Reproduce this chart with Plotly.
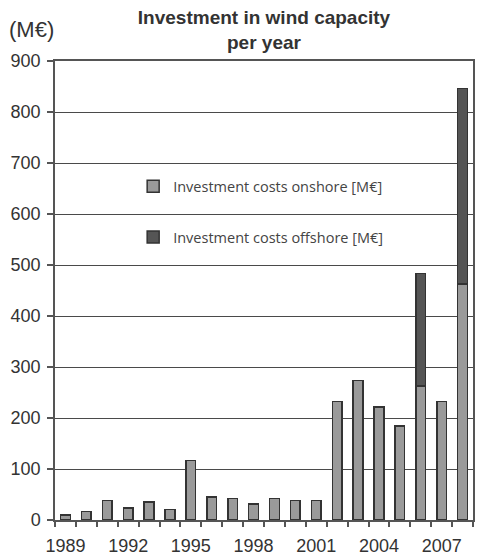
import plotly.graph_objects as go

years = [str(y) for y in range(1989, 2009)]
onshore = [10, 17, 38, 24, 35, 21, 117, 45, 42, 31, 42, 38, 38, 232, 274, 222, 184, 263, 232, 463]
offshore = [None, None, None, None, None, None, None, None, None, None, None, None, None, None,
            None, None, None, 220, None, 383]
tick_labels = [y if (int(y) - 1989) % 3 == 0 else "" for y in years]
y_ticks = list(range(0, 1000, 100))

fig = go.Figure()
fig.add_trace(go.Bar(
    x=years, y=onshore, name="Investment costs onshore [M€]",
    marker=dict(color="#9a9a9a", line=dict(color="#333333", width=1.5)),
    width=0.46, legendgroup="a",
))
fig.add_trace(go.Bar(
    x=years, y=offshore, name="Investment costs offshore [M€]",
    marker=dict(color="#555555", line=dict(color="#333333", width=1.5)),
    width=0.46, legendgroup="b",
))

fig.update_layout(
    barmode="stack",
    width=478, height=555,
    margin=dict(l=55, r=5, t=61, b=35, autoexpand=False),
    paper_bgcolor="white", plot_bgcolor="white",
    font=dict(family="Liberation Sans, Arial, sans-serif", color="#333333"),
    title=dict(
        text="<b>Investment in wind capacity<br>per year</b>",
        x=0.5, xanchor="center", xref="paper",
        y=1 - 24 / 555, yanchor="middle", yref="container",
        font=dict(size=19, color="#333333", family="Liberation Sans, Arial, sans-serif"),
    ),
    showlegend=True,
    legend=dict(
        x=0.187, y=0.762, xanchor="left", yanchor="top",
        bgcolor="rgba(0,0,0,0)",
        font=dict(family="Open Sans, sans-serif", size=14.5, color="#444444"),
        traceorder="grouped", tracegroupgap=29,
    ),
    xaxis=dict(
        type="category",
        tickmode="array", tickvals=years, ticktext=tick_labels,
        tickson="boundaries", tickangle=0, automargin=False,
        ticks="outside", ticklen=5, tickcolor="#555555", tickwidth=1.5,
        showline=True, mirror=True, linecolor="#555555", linewidth=1.5,
        showgrid=False,
        tickfont=dict(size=18, color="#333333"),
        ticklabelstandoff=9,
        range=[-0.5, 19.5],
    ),
    yaxis=dict(
        range=[0, 900], tickvals=y_ticks, automargin=False,
        ticks="outside", ticklen=6, tickcolor="#555555", tickwidth=1.5,
        showline=True, mirror=True, linecolor="#555555", linewidth=1.5,
        showgrid=True, gridcolor="#4a4a4a", gridwidth=1.3,
        zeroline=False,
        tickfont=dict(size=18, color="#333333"),
        ticklabelstandoff=3,
    ),
    annotations=[dict(
        text="(M€)", xref="paper", yref="paper", x=-0.115, y=1.068,
        xanchor="left", yanchor="middle", showarrow=False,
        font=dict(size=22, color="#333333", family="Liberation Sans, Arial, sans-serif"),
    )],
)

fig.write_html(
    "out.html",
    config={"displayModeBar": False},
    post_script="document.body.style.margin='0';document.body.style.overflow='hidden';",
)
